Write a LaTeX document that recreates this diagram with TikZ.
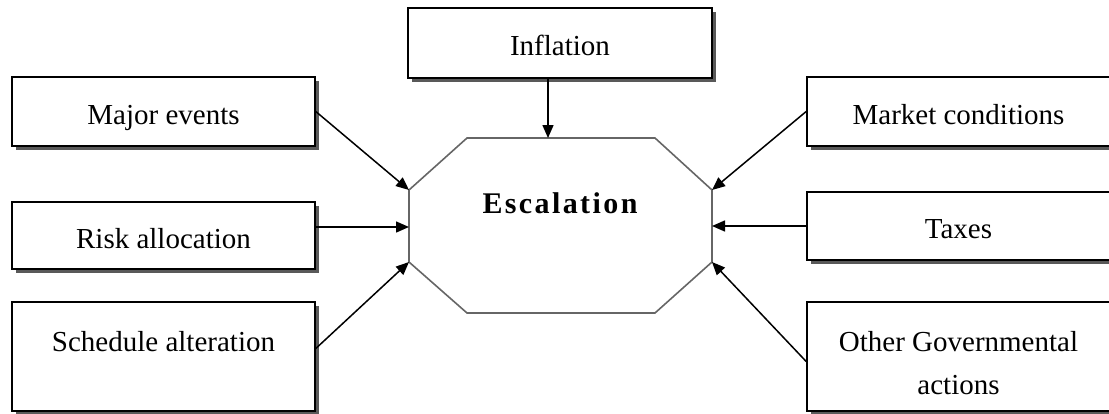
\documentclass[tikz,border=0pt]{standalone}
\usepackage{fontspec}
\setmainfont{Liberation Serif}
\usetikzlibrary{arrows.meta,shadows}
\tikzset{
  box/.style={draw=black, line width=1.6pt, fill=white, rectangle, inner sep=0pt,
    align=center, font=\fontsize{29}{43}\selectfont,
    text height=25pt, text depth=0pt,
    general shadow={fill=black!65, shadow xshift=4pt, shadow yshift=-4pt}},
  lbox/.style={box, minimum width=303pt},
  lowtext/.style={text height=20pt, text depth=30pt},
  twoline/.style={text height=76pt, text depth=0pt},
  arr/.style={line width=1.5pt, -{Triangle[length=13pt,width=11pt]}},
  octa/.style={draw=black!60, line width=1.6pt, fill=white},
  esc/.style={font=\fontsize{30}{36}\selectfont\bfseries\addfontfeature{LetterSpace=8}}
}
\begin{document}
\begin{tikzpicture}[x=1pt,y=-1pt]
\useasboundingbox (0,0) rectangle (1109,413);
% octagon corners
\coordinate (o1) at (467,138);
\coordinate (o2) at (655,138);
\coordinate (o3) at (712,190);
\coordinate (o4) at (712,262);
\coordinate (o5) at (655,313);
\coordinate (o6) at (467,313);
\coordinate (o7) at (409,262);
\coordinate (o8) at (409,190);
\coordinate (lm) at (409,227);
\coordinate (rm) at (712,226);
\coordinate (tm) at (548,138);
\draw[octa] (o1) -- (o2) -- (o3) -- (o4) -- (o5) -- (o6) -- (o7) -- (o8) -- cycle;
\node[esc] (esc) at (560,203) {Escalation};
% boxes
\node[box, minimum width=304pt, minimum height=70pt] (infl) at (560,43) {Inflation};
\node[lbox, minimum height=69pt] (major) at (163.5,111.5) {Major events};
\node[lbox, minimum height=67pt] (risk) at (163.5,235.5) {Risk allocation};
\node[lbox, lowtext, minimum height=109pt] (sched) at (163.5,356.5) {Schedule alteration};
\node[lbox, minimum height=69pt] (market) at (958.5,111.5) {Market conditions};
\node[lbox, minimum height=68pt] (taxes) at (958.5,226) {Taxes};
\node[lbox, twoline, minimum height=109pt] (other) at (958.5,356.5) {Other Governmental\\ actions};
% connectors
\draw[arr] (infl.south -| tm) -- (tm);
\draw[arr] (major.east) -- (o8);
\draw[arr] (risk.east |- lm) -- (lm);
\draw[arr] ([yshift=8pt]sched.east) -- (o7);
\draw[arr] (market.west) -- (o3);
\draw[arr] (taxes.west |- rm) -- (rm);
\draw[arr] ([yshift=-5pt]other.west) -- (o4);
\end{tikzpicture}
\end{document}
